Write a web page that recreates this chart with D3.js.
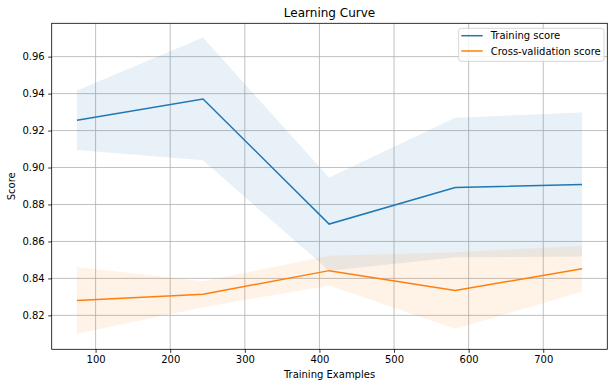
<!DOCTYPE html>
<html>
<head>
<meta charset="utf-8">
<script src="https://cdn.jsdelivr.net/npm/d3@7"></script>
<style>
  body { margin: 0; background: #fff; }
  svg { display: block; font-family: 'DejaVu Sans', sans-serif; }
</style>
</head>
<body>
<div id="chart"></div>
<script>
// training set sizes
const trainSizes = [75, 244, 413, 582, 752]
const trainMean = [0.9256, 0.9371, 0.8694, 0.8892, 0.8908]
const trainStd = [0.0161, 0.0332, 0.0252, 0.0378, 0.0390]
const testMean = [0.8281, 0.8314, 0.8442, 0.8335, 0.8452]
const testStd = [0.0181, 0.0070, 0.0080, 0.0207, 0.0124]
const yTicks = [0.82, 0.84, 0.86, 0.88, 0.90, 0.92, 0.94, 0.96]
const xTicks = [100, 200, 300, 400, 500, 600, 700]
const seriesNames = ['Training score', 'Cross-validation score']
const colors = ['#1f77b4', '#ff7f0e']

const W = 615, H = 387
const m = { left: 51.7, right: 615 - 607.3, top: 23.3, bottom: 387 - 349.3 }

const svg = d3.select('#chart').append('svg')
    .attr('width', W).attr('height', H)
    .attr('viewBox', `0 0 ${W} ${H}`)

const x = d3.scaleLinear().domain([41.15, 785.85]).range([m.left, W - m.right])
const y = d3.scaleLinear().domain([0.80163, 0.97805]).range([H - m.bottom, m.top])

// grid
const grid = svg.append('g')
grid.selectAll('.gx').data(xTicks).enter().append('line')
    .attr('x1', d => x(d)).attr('x2', d => x(d))
    .attr('y1', m.top).attr('y2', H - m.bottom)
    .attr('stroke', '#b0b0b0').attr('stroke-width', 0.8)
grid.selectAll('.gy').data(yTicks).enter().append('line')
    .attr('x1', m.left).attr('x2', W - m.right)
    .attr('y1', d => y(d)).attr('y2', d => y(d))
    .attr('stroke', '#b0b0b0').attr('stroke-width', 0.8)

const series = [
    { mean: trainMean, std: trainStd },
    { mean: testMean, std: testStd }
]

const area = d3.area()
    .x((d, i) => x(trainSizes[i]))
    .y0(d => y(d[0] - d[1]))
    .y1(d => y(d[0] + d[1]))
const line = d3.line()
    .x((d, i) => x(trainSizes[i]))
    .y(d => y(d))

series.forEach((s, k) => {
    svg.append('path')
        .datum(s.mean.map((v, i) => [v, s.std[i]]))
        .attr('d', area)
        .attr('fill', colors[k]).attr('fill-opacity', 0.1)
})
series.forEach((s, k) => {
    svg.append('path')
        .datum(s.mean)
        .attr('d', line)
        .attr('fill', 'none')
        .attr('stroke', colors[k]).attr('stroke-width', 1.5)
})

// axes
const xAxis = svg.append('g')
    .attr('transform', `translate(0,${H - m.bottom})`)
    .call(d3.axisBottom(x).tickValues(xTicks).tickSize(3.5).tickPadding(3.5).tickFormat(d3.format('d')))
const yAxis = svg.append('g')
    .attr('transform', `translate(${m.left},0)`)
    .call(d3.axisLeft(y).tickValues(yTicks).tickSize(3.5).tickPadding(3.5).tickFormat(d3.format('.2f')))
;[xAxis, yAxis].forEach(a => {
    a.select('.domain').remove()
    a.selectAll('text').attr('font-size', 10).attr('fill', '#000').attr('font-family', 'DejaVu Sans')
    a.selectAll('line').attr('stroke', '#000').attr('stroke-width', 0.8)
})

// spines
svg.append('rect')
    .attr('x', m.left).attr('y', m.top)
    .attr('width', W - m.left - m.right).attr('height', H - m.top - m.bottom)
    .attr('fill', 'none').attr('stroke', '#000').attr('stroke-width', 0.8)

svg.append('text')
    .attr('x', (m.left + W - m.right) / 2).attr('y', 17)
    .attr('text-anchor', 'middle').attr('font-size', 12)
    .text('Learning Curve')
svg.append('text')
    .attr('x', (m.left + W - m.right) / 2).attr('y', 378)
    .attr('text-anchor', 'middle').attr('font-size', 10)
    .text('Training Examples')
svg.append('text')
    .attr('transform', `translate(15,${(m.top + H - m.bottom) / 2}) rotate(-90)`)
    .attr('text-anchor', 'middle').attr('font-size', 10)
    .text('Score')

// legend
const lg = svg.append('g')
lg.append('rect')
    .attr('x', 458.7).attr('y', 28.3).attr('width', 145.3).attr('height', 33)
    .attr('rx', 2.5)
    .attr('fill', '#fff').attr('fill-opacity', 0.8)
    .attr('stroke', '#cccccc').attr('stroke-width', 0.8)
seriesNames.forEach((name, i) => {
    const yy = 35.7 + i * 15.3
    lg.append('line')
        .attr('x1', 461.3).attr('x2', 482.7).attr('y1', yy).attr('y2', yy)
        .attr('stroke', colors[i]).attr('stroke-width', 1.5)
    lg.append('text')
        .attr('x', 490.7).attr('y', yy + 3.6)
        .attr('font-size', 10)
        .text(name)
})
</script>
</body>
</html>
